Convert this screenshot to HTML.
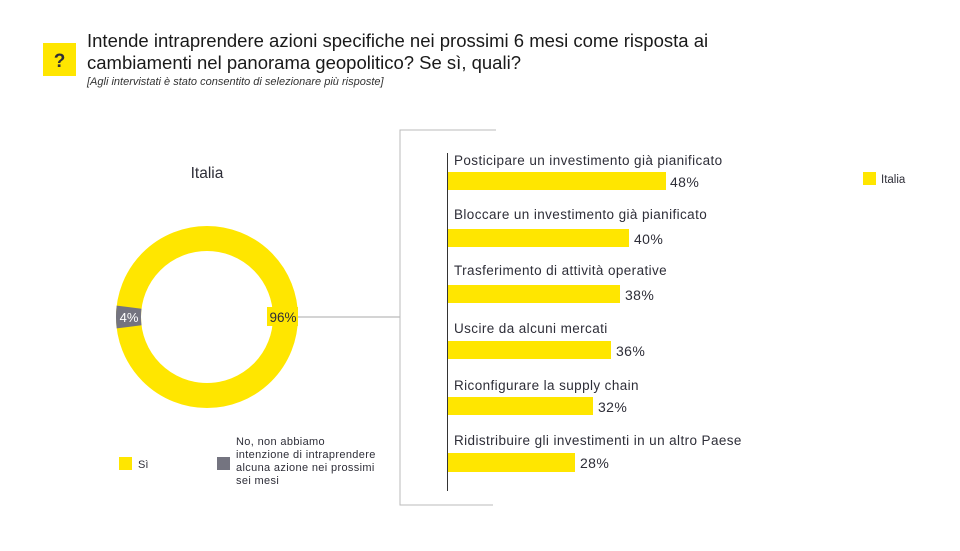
<!DOCTYPE html>
<html><head><meta charset="utf-8"><style>
body{margin:0;background:#fff;}
svg text{font-family:"Liberation Sans",sans-serif;}
</style></head><body>
<svg width="960" height="546" viewBox="0 0 960 546" xmlns="http://www.w3.org/2000/svg">
<rect width="960" height="546" fill="#fff"/>
<rect x="43" y="43" width="33" height="33" fill="#ffe600"/>
<text x="59.5" y="67" font-size="19" font-weight="bold" fill="#2e2e38" text-anchor="middle">?</text>
<text x="87" y="47" font-size="18.5" fill="#1a1a1a">Intende intraprendere azioni specifiche nei prossimi 6 mesi come risposta ai</text>
<text x="87" y="69" font-size="18.5" fill="#1a1a1a">cambiamenti nel panorama geopolitico? Se sì, quali?</text>
<text x="87" y="85" font-size="11" font-style="italic" fill="#333">[Agli intervistati è stato consentito di selezionare più risposte]</text>

<text x="207" y="178" font-size="15.5" fill="#2e2e38" text-anchor="middle">Italia</text>
<circle cx="207" cy="317" r="78.5" fill="none" stroke="#ffe600" stroke-width="25"/>
<path d="M116.7,305.6 A91,91 0 0 0 116.7,328.4 L141.5,325.3 A66,66 0 0 1 141.5,308.7 Z" fill="#747480"/>
<text x="129" y="322" font-size="13" fill="#fff" text-anchor="middle">4%</text>
<rect x="267" y="307" width="31" height="19" fill="#ffe600"/>
<text x="283" y="322" font-size="13.5" fill="#2e2e38" text-anchor="middle">96%</text>
<line x1="298" y1="317" x2="400" y2="317" stroke="#aaa" stroke-width="1"/>

<rect x="119" y="457" width="13" height="13" fill="#ffe600"/>
<text x="138" y="468" font-size="11" fill="#2e2e38">Sì</text>
<rect x="217" y="457" width="13" height="13" fill="#747480"/>
<g font-size="11" fill="#2e2e38" letter-spacing="0.35">
<text x="236" y="445">No, non abbiamo</text>
<text x="236" y="458">intenzione di intraprendere</text>
<text x="236" y="471">alcuna azione nei prossimi</text>
<text x="236" y="484">sei mesi</text>
</g>

<polyline points="496,130 400,130 400,505 493,505" fill="none" stroke="#bbb" stroke-width="1"/>
<line x1="447.5" y1="153" x2="447.5" y2="491" stroke="#333" stroke-width="1"/>

<g font-size="13.5" fill="#2e2e38" letter-spacing="0.4">
<text x="454" y="165">Posticipare un investimento già pianificato</text>
<rect x="448" y="172" width="218" height="18" fill="#ffe600"/>
<text x="670" y="187" font-size="14">48%</text>
<text x="454" y="219">Bloccare un investimento già pianificato</text>
<rect x="448" y="229" width="181" height="18" fill="#ffe600"/>
<text x="634" y="244" font-size="14">40%</text>
<text x="454" y="275">Trasferimento di attività operative</text>
<rect x="448" y="285" width="172" height="18" fill="#ffe600"/>
<text x="625" y="300" font-size="14">38%</text>
<text x="454" y="333">Uscire da alcuni mercati</text>
<rect x="448" y="341" width="163" height="18" fill="#ffe600"/>
<text x="616" y="356" font-size="14">36%</text>
<text x="454" y="390">Riconfigurare la supply chain</text>
<rect x="448" y="397" width="145" height="18" fill="#ffe600"/>
<text x="598" y="412" font-size="14">32%</text>
<text x="454" y="445">Ridistribuire gli investimenti in un altro Paese</text>
<rect x="448" y="453" width="127" height="19" fill="#ffe600"/>
<text x="580" y="468" font-size="14">28%</text>
</g>

<rect x="863" y="172" width="13" height="13" fill="#ffe600"/>
<text x="881" y="183" font-size="11.5" fill="#2e2e38">Italia</text>
</svg>
</body></html>
